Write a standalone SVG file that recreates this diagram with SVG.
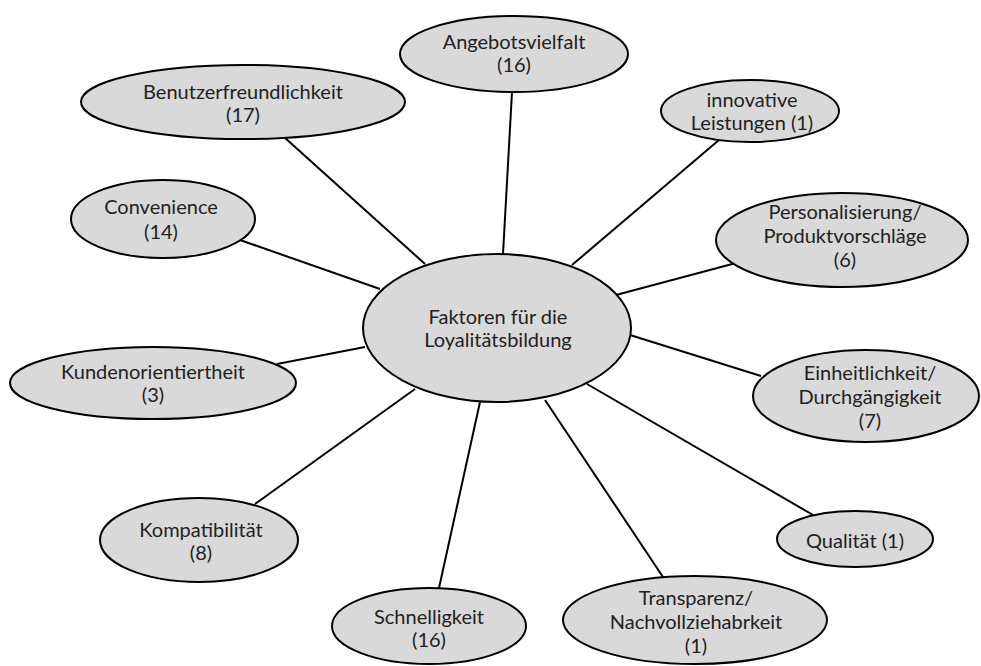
<svg xmlns="http://www.w3.org/2000/svg" width="981" height="666" viewBox="0 0 981 666">
  <style>
    .bg { fill: #ffffff; }
    .node ellipse { fill: #d9d9d9; stroke: #000000; stroke-width: 2; }
    .node text { font-family: Lato, "Liberation Sans", sans-serif; font-size: 20px; fill: #222222; text-anchor: middle; }
    .links line { stroke: #000000; stroke-width: 2; }
  </style>
  <rect class="bg" x="0" y="0" width="981" height="666"/>

  <!-- spokes from the central factor to each surrounding factor -->
  <g id="connectors" class="links">
    <line x1="512" y1="92" x2="503" y2="254"/>
    <line x1="284" y1="137" x2="425" y2="264"/>
    <line x1="719" y1="140" x2="572" y2="265"/>
    <line x1="240" y1="240" x2="380" y2="289"/>
    <line x1="736" y1="263" x2="616" y2="295"/>
    <line x1="277" y1="364" x2="365" y2="347"/>
    <line x1="761" y1="376" x2="630" y2="335"/>
    <line x1="587" y1="384" x2="813" y2="515"/>
    <line x1="545" y1="400" x2="663" y2="577"/>
    <line x1="480" y1="402" x2="439" y2="588"/>
    <line x1="415" y1="389" x2="255" y2="504"/>
  </g>

  <g id="center" class="node">
    <ellipse cx="497" cy="328" rx="134" ry="74"/>
    <text x="498" y="324">Faktoren für die</text>
    <text x="498" y="347">Loyalitätsbildung</text>
  </g>

  <g id="angebotsvielfalt" class="node">
    <ellipse cx="514" cy="54" rx="114" ry="38"/>
    <text x="514" y="49">Angebotsvielfalt</text>
    <text x="514" y="72">(16)</text>
  </g>

  <g id="benutzerfreundlichkeit" class="node">
    <ellipse cx="243" cy="102" rx="162" ry="37"/>
    <text x="243" y="99">Benutzerfreundlichkeit</text>
    <text x="243" y="122">(17)</text>
  </g>

  <g id="innovative-leistungen" class="node">
    <ellipse cx="750" cy="111" rx="89" ry="31"/>
    <text x="752" y="107">innovative</text>
    <text x="752" y="130">Leistungen (1)</text>
  </g>

  <g id="convenience" class="node">
    <ellipse cx="163" cy="219" rx="92" ry="39"/>
    <text x="161" y="214">Convenience</text>
    <text x="161" y="239">(14)</text>
  </g>

  <g id="personalisierung" class="node">
    <ellipse cx="842" cy="240" rx="126" ry="47"/>
    <text x="845" y="219">Personalisierung/</text>
    <text x="845" y="243">Produktvorschläge</text>
    <text x="845" y="267">(6)</text>
  </g>

  <g id="kundenorientiertheit" class="node">
    <ellipse cx="153" cy="383" rx="143" ry="36"/>
    <text x="153" y="379">Kundenorientiertheit</text>
    <text x="153" y="402">(3)</text>
  </g>

  <g id="einheitlichkeit" class="node">
    <ellipse cx="866" cy="396" rx="113" ry="46"/>
    <text x="870" y="380">Einheitlichkeit/</text>
    <text x="870" y="404">Durchgängigkeit</text>
    <text x="870" y="428">(7)</text>
  </g>

  <g id="kompatibilitaet" class="node">
    <ellipse cx="199" cy="540" rx="99" ry="42"/>
    <text x="201" y="537">Kompatibilität</text>
    <text x="201" y="560">(8)</text>
  </g>

  <g id="qualitaet" class="node">
    <ellipse cx="855" cy="539" rx="78" ry="28"/>
    <text x="855" y="548">Qualität (1)</text>
  </g>

  <g id="schnelligkeit" class="node">
    <ellipse cx="429" cy="626" rx="97" ry="38"/>
    <text x="429" y="624">Schnelligkeit</text>
    <text x="429" y="647">(16)</text>
  </g>

  <g id="transparenz" class="node">
    <ellipse cx="695" cy="620" rx="132" ry="44"/>
    <text x="696" y="605">Transparenz/</text>
    <text x="696" y="629">Nachvollziehabrkeit</text>
    <text x="696" y="653">(1)</text>
  </g>
</svg>
